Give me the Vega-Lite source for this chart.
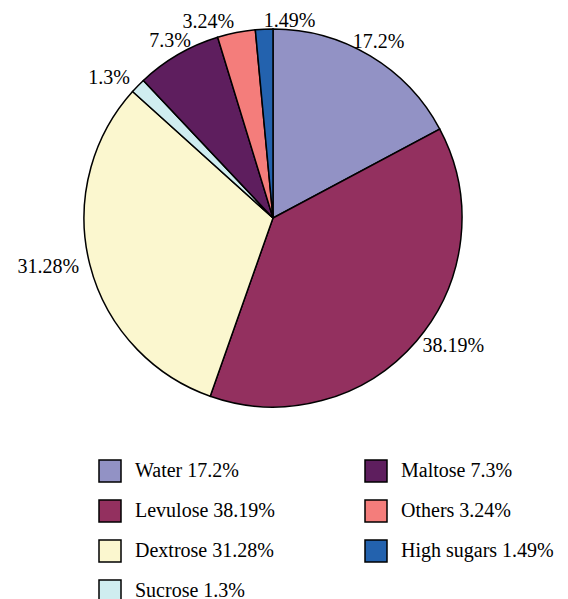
{
  "$schema": "https://vega.github.io/schema/vega-lite/v6.json",
  "width": 546,
  "height": 436,
  "autosize": "none",
  "padding": {"left": 0, "top": 0, "right": 22, "bottom": 163},
  "background": "white",
  "data": {
    "values": [
      {"component": "Water", "key": "Water 17.2%", "value": 17.2, "label": "17.2%", "rank": 1},
      {"component": "Levulose", "key": "Levulose 38.19%", "value": 38.19, "label": "38.19%", "rank": 2},
      {"component": "Dextrose", "key": "Dextrose 31.28%", "value": 31.28, "label": "31.28%", "rank": 3},
      {"component": "Sucrose", "key": "Sucrose 1.3%", "value": 1.3, "label": "1.3%", "rank": 4},
      {"component": "Maltose", "key": "Maltose 7.3%", "value": 7.3, "label": "7.3%", "rank": 5},
      {"component": "Others", "key": "Others 3.24%", "value": 3.24, "label": "3.24%", "rank": 6},
      {"component": "High sugars", "key": "High sugars 1.49%", "value": 1.49, "label": "1.49%", "rank": 7}
    ]
  },
  "encoding": {
    "theta": {"field": "value", "type": "quantitative", "stack": true},
    "order": {"field": "rank", "type": "quantitative", "sort": "ascending"}
  },
  "layer": [
    {
      "mark": {"type": "arc", "outerRadius": 189, "stroke": "black", "strokeWidth": 1.5},
      "encoding": {
        "color": {
          "field": "key",
          "type": "nominal",
          "scale": {
            "domain": ["Water 17.2%", "Maltose 7.3%", "Levulose 38.19%", "Others 3.24%", "Dextrose 31.28%", "High sugars 1.49%", "Sucrose 1.3%"],
            "range": ["#9292C5", "#5E1E5E", "#93305F", "#F47D7B", "#FBF7CF", "#2362AE", "#CFEDF0"]
          },
          "legend": {
            "title": null,
            "orient": "none",
            "legendX": 98,
            "legendY": 459,
            "columns": 2,
            "direction": "horizontal",
            "columnPadding": 87,
            "rowPadding": 12,
            "padding": 0,
            "symbolType": "square",
            "symbolSize": 484,
            "symbolStrokeColor": "black",
            "symbolStrokeWidth": 1.5,
            "symbolOpacity": 1,
            "labelFont": "Liberation Serif",
            "labelFontSize": 20,
            "labelColor": "black",
            "labelOffset": 13,
            "labelLimit": 300
          }
        }
      }
    },
    {
      "mark": {"type": "text", "radius": 205, "font": "Liberation Serif", "fontSize": 20, "color": "black", "align": "center", "baseline": "middle"},
      "encoding": {
        "text": {"condition": {"test": "datum.rank == 1 || datum.rank == 5", "field": "label"}, "value": ""}
      }
    },
    {
      "mark": {"type": "text", "radius": 200, "font": "Liberation Serif", "fontSize": 20, "color": "black", "align": "right", "baseline": "middle"},
      "encoding": {
        "text": {"condition": {"test": "datum.rank == 3 || datum.rank == 4 || datum.rank == 6", "field": "label"}, "value": ""}
      }
    },
    {
      "mark": {"type": "text", "radius": 197, "font": "Liberation Serif", "fontSize": 20, "color": "black", "align": "left", "baseline": "middle"},
      "encoding": {
        "text": {"condition": {"test": "datum.rank == 2 || datum.rank == 7", "field": "label"}, "value": ""}
      }
    }
  ]
}
